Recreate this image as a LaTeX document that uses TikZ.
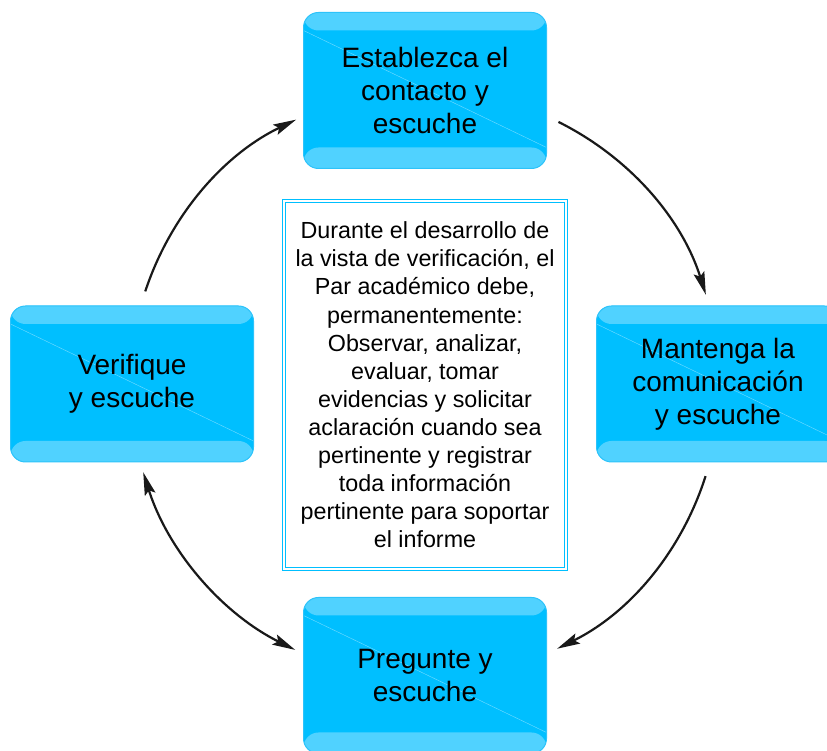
\documentclass[tikz,border=0pt]{standalone}
\usepackage{fontspec}
\setmainfont{Liberation Sans}
\usetikzlibrary{arrows.meta}
\definecolor{stagefill}{RGB}{0,191,255}
\definecolor{stageband}{RGB}{80,210,255}
\definecolor{stageline}{RGB}{45,195,250}
\begin{document}
\begin{tikzpicture}[x=1pt,y=1pt,>={Stealth[length=23pt,width=11pt,inset=4pt]},
       stage/.style={rectangle,rounded corners=15pt,draw=stageline,line width=1pt,fill=stagefill,
              minimum width=243pt,minimum height=156pt,inner sep=0pt,align=center,
              font={\fontsize{28}{33}\selectfont},
              path picture={
                \fill[stageband] (path picture bounding box.north west) rectangle ([yshift=-18pt]path picture bounding box.north east);
                \fill[stageband] (path picture bounding box.south west) rectangle ([yshift=21pt]path picture bounding box.south east);
                \draw[white,opacity=.45,line width=.4pt] ([yshift=-18pt]path picture bounding box.north west) -- ([yshift=21pt]path picture bounding box.south east);}},
       memo/.style={rectangle,draw=stagefill,line width=1.1pt,double=white,double distance=1.4pt,
              fill=white,minimum width=282pt,minimum height=368pt,inner sep=0pt,align=center,
              font={\fontsize{23.3}{28.1}\selectfont}},
       link/.style={->,line width=2.2pt,black!90}]
   \useasboundingbox (0,0) rectangle (827,751);
   % the four steps round the note
   \node [stage] (est) at (425,660.5) {Establezca el\\contacto y\\escuche};
   \node [stage] (man) at (718,367) {Mantenga la\\comunicación\\y escuche};
   \node [stage] (pre) at (425,75.5) {Pregunte y\\escuche};
   \node [stage] (ver) at (132,367) {Verifique\\y escuche};
   \node [memo] (note) at (425,366) {Durante el desarrollo de\\la vista de verificación, el\\Par académico debe,\\permanentemente:\\Observar, analizar,\\evaluar, tomar\\evidencias y solicitar\\aclaración cuando sea\\pertinente y registrar\\toda información\\pertinente para soportar\\el informe};
   % ends of the arcs
   \coordinate (hub) at (425,366);
   \path (hub) ++(161.5:295) coordinate (verOut) (hub) ++(115.9:295) coordinate (estIn);
   \path (hub) ++(63.1:295) coordinate (estOut) (hub) ++(17.8:295) coordinate (manIn);
   \path (hub) ++(-18:295) coordinate (manOut) (hub) ++(-63.4:295) coordinate (preIn);
   \path (hub) ++(197.2:295) coordinate (verEnd) (hub) ++(243.9:295) coordinate (preEnd);
   \draw [link] (verOut) to[bend left=23,looseness=.9] (estIn);
   \draw [link] (estOut) to[bend left=23,looseness=.9] (manIn);
   \draw [link] (manOut) to[bend left=23,looseness=.9] (preIn);
   \draw [link,<->] (verEnd) to[bend right=23,looseness=.9] (preEnd);
\end{tikzpicture}
\end{document}
